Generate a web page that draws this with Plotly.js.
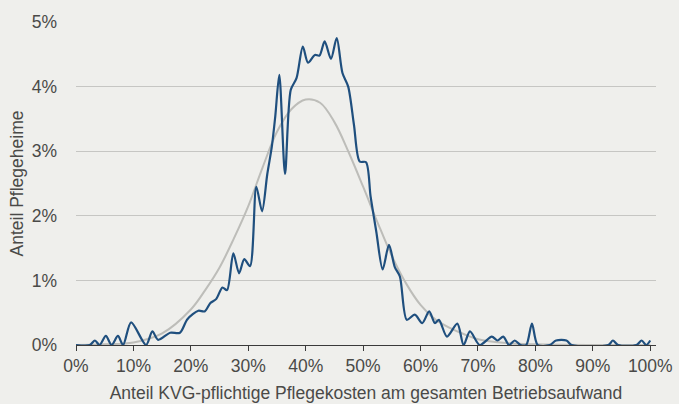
<!DOCTYPE html>
<html>
<head>
<meta charset="utf-8">
<script src="https://cdn.plot.ly/plotly-3.0.1.min.js"></script>
<style>
  html, body { margin: 0; padding: 0; background: #efefec; }
  #chart { width: 679px; height: 404px; }
</style>
</head>
<body>
<div id="chart"></div>
<script>
// Share of KVG-relevant care costs (%), observed distribution (blue)
const shareX = [0, 2.4, 3.3, 4.1, 5.2, 6.2, 7.3, 8.2, 9.6, 12.2, 13.3, 14.3, 16.4, 18.1, 19.4,
  21.3, 22.4, 23.4, 24.4, 25.5, 26.3, 27.4, 28.4, 29.3, 30.3, 31.4, 32.4, 33.3, 34.1, 34.7,
  35.4, 36.4, 37.4, 38.4, 39.5, 40.4, 41.6, 42.4, 43.3, 44.4, 45.4, 46.4, 47.4, 48.4, 49.4,
  50.5, 51.3, 52.3, 53.4, 54.5, 55.5, 56.4, 57.6, 59.0, 60.3, 61.5, 62.5, 63.2, 64.6, 66.4,
  67.5, 68.6, 70.3, 72.4, 73.4, 74.4, 75.4, 76.4, 77.4, 78.4, 79.4, 80.4, 82.5, 83.6, 85.4,
  86.3, 92.7, 93.5, 94.4, 97.6, 98.5, 99.3, 100];
const shareHomes = [0, 0, 0.07, 0, 0.14, 0, 0.14, 0, 0.35, 0, 0.21, 0.08, 0.19, 0.19, 0.40,
  0.53, 0.52, 0.65, 0.71, 0.89, 0.85, 1.42, 1.11, 1.33, 1.22, 2.45, 2.07, 2.64, 3.07, 3.54,
  4.18, 2.65, 3.95, 4.13, 4.62, 4.37, 4.49, 4.48, 4.70, 4.43, 4.75, 4.21, 4.00, 3.41, 2.84,
  2.83, 2.30, 1.75, 1.17, 1.55, 1.21, 1.06, 0.39, 0.47, 0.34, 0.52, 0.34, 0.39, 0.13, 0.33,
  0, 0.21, 0, 0.13, 0.07, 0.13, 0, 0.07, 0, 0, 0.33, 0, 0, 0.07, 0.07,
  0, 0, 0.07, 0, 0, 0.07, 0, 0.07];

// Fitted reference curve (gray)
const fitX = [0, 5, 10, 15, 20, 22.5, 25, 27.5, 30, 32.5, 35, 37.5, 40, 42.5, 45, 47.5, 50,
  52.5, 55, 57.5, 60, 62.5, 65, 67.5, 70, 75, 80, 90, 100];
const fitY = [0, 0.01, 0.04, 0.18, 0.55, 0.85, 1.2, 1.65, 2.15, 2.75, 3.3, 3.65, 3.8, 3.75,
  3.45, 2.98, 2.45, 1.9, 1.38, 0.95, 0.62, 0.4, 0.27, 0.17, 0.09, 0.03, 0.01, 0, 0];

const xTicks = [0, 10, 20, 30, 40, 50, 60, 70, 80, 90, 100];
const yTicks = [0, 1, 2, 3, 4, 5];

const font = { family: 'Liberation Sans, Arial, sans-serif', size: 17.5, color: '#4a4a48' };

const traces = [
  {
    x: fitX, y: fitY, type: 'scatter', mode: 'lines',
    line: { color: '#bdbdb9', width: 2, shape: 'spline', smoothing: 1 },
    hoverinfo: 'skip'
  },
  {
    x: shareX, y: shareHomes, type: 'scatter', mode: 'lines',
    line: { color: '#1f4f7e', width: 2.2, shape: 'spline', smoothing: 0.8 },
    hoverinfo: 'skip'
  }
];

const layout = {
  width: 679, height: 404,
  margin: { l: 76, r: 23, t: 22, b: 59 },
  paper_bgcolor: '#efefec',
  plot_bgcolor: '#efefec',
  showlegend: false,
  font: font,
  xaxis: {
    range: [0, 101],
    tickvals: xTicks,
    ticktext: xTicks.map(v => v + '%'),
    showgrid: false,
    zeroline: false,
    showline: true,
    linecolor: '#3a3a3a',
    linewidth: 1.2,
    ticks: 'outside',
    ticklen: 5,
    tickwidth: 1,
    tickcolor: '#3a3a3a',
    tickfont: font,
    title: { text: 'Anteil KVG-pflichtige Pflegekosten am gesamten Betriebsaufwand', font: font, standoff: 11 }
  },
  yaxis: {
    range: [0, 5],
    tickvals: yTicks,
    ticktext: yTicks.map(v => v + '%'),
    showgrid: true,
    gridcolor: '#c6c6c3',
    gridwidth: 1,
    zeroline: false,
    showline: false,
    ticks: '',
    ticklabelstandoff: 18,
    tickfont: font,
    title: { text: 'Anteil Pflegeheime', font: font, standoff: 3 }
  }
};

Plotly.newPlot('chart', traces, layout, { staticPlot: true, displayModeBar: false });
</script>
</body>
</html>
